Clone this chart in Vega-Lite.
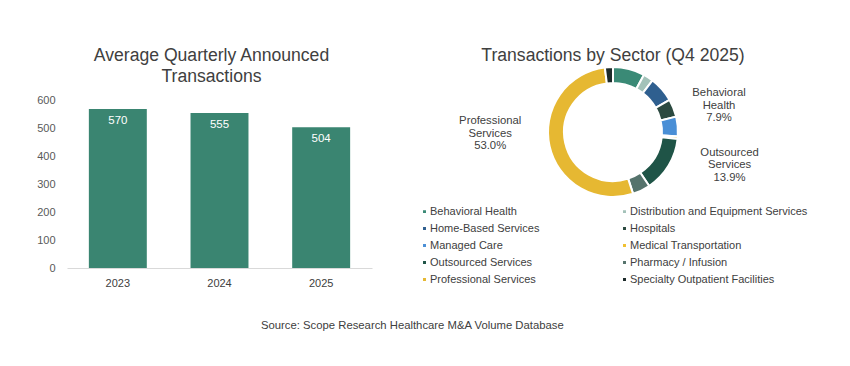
{
  "$schema": "https://vega.github.io/schema/vega-lite/v6.json",
  "padding": {"left": 36, "top": 47, "right": 5, "bottom": 5},
  "background": "white",
  "config": {
    "font": "Liberation Sans",
    "view": {"stroke": null},
    "concat": {"spacing": 47}
  },
  "resolve": {"scale": {"color": "independent"}, "legend": {"color": "independent"}},
  "title": {
    "text": "Source: Scope Research Healthcare M&A Volume Database",
    "orient": "bottom",
    "anchor": "middle",
    "fontSize": 11.3,
    "fontWeight": "normal",
    "color": "#404040",
    "offset": 32,
    "dx": -10
  },
  "hconcat": [
    {
      "width": 305,
      "height": 201,
      "title": {
        "text": ["Average Quarterly Announced", "Transactions"],
        "fontSize": 17.6,
        "fontWeight": "normal",
        "color": "#404040",
        "lineHeight": 21,
        "offset": -19,
        "dx": -8,
        "anchor": "middle"
      },
      "data": {
        "values": [
          {"year": "2023", "avg": 570},
          {"year": "2024", "avg": 555},
          {"year": "2025", "avg": 504}
        ]
      },
      "encoding": {
        "x": {
          "field": "year",
          "type": "nominal",
          "title": null,
          "scale": {"paddingInner": 0.43, "paddingOuter": 0.215},
          "axis": {
            "labelAngle": 0,
            "ticks": false,
            "domainColor": "#d9d9d9",
            "labelFontSize": 11,
            "labelColor": "#404040",
            "labelPadding": 9
          }
        },
        "y": {
          "field": "avg",
          "type": "quantitative",
          "title": null,
          "scale": {"domain": [0, 720]},
          "axis": {
            "values": [0, 100, 200, 300, 400, 500, 600],
            "grid": false,
            "domain": false,
            "ticks": false,
            "labelFontSize": 11,
            "labelColor": "#595959",
            "labelPadding": 12
          }
        }
      },
      "layer": [
        {"mark": {"type": "bar", "color": "#3a8571"}},
        {
          "mark": {"type": "text", "color": "white", "baseline": "top", "dy": 6, "fontSize": 11.5},
          "encoding": {"text": {"field": "avg", "type": "quantitative"}}
        }
      ]
    },
    {
      "width": 388,
      "height": 130,
      "title": {
        "text": "Transactions by Sector (Q4 2025)",
        "fontSize": 17.6,
        "fontWeight": "normal",
        "color": "#404040",
        "offset": -2,
        "anchor": "middle"
      },
      "data": {
        "values": [
          {"sector": "Behavioral Health", "pct": 7.9},
          {"sector": "Distribution and Equipment Services", "pct": 2.5},
          {"sector": "Home-Based Services", "pct": 6.4},
          {"sector": "Hospitals", "pct": 4.4},
          {"sector": "Managed Care", "pct": 4.9},
          {"sector": "Medical Transportation", "pct": 0.6},
          {"sector": "Outsourced Services", "pct": 13.9},
          {"sector": "Pharmacy / Infusion", "pct": 4.4},
          {"sector": "Professional Services", "pct": 53.0},
          {"sector": "Specialty Outpatient Facilities", "pct": 2.0}
        ]
      },
      "transform": [
        {"stack": "pct", "groupby": [], "sort": [{"field": "sector", "order": "ascending"}], "as": ["p0", "p1"]},
        {"calculate": "replace(datum.sector, ' ', '\\n') + '\\n' + format(datum.pct, '.1f') + '%'", "as": "label"}
      ],
      "layer": [
        {
          "mark": {"type": "arc", "outerRadius": 65, "innerRadius": 49, "stroke": "white", "strokeWidth": 2},
          "encoding": {
            "theta": {"field": "p0", "type": "quantitative", "scale": {"domain": [0, 100]}},
            "theta2": {"field": "p1"},
            "color": {
              "field": "sector",
              "type": "nominal",
              "scale": {
                "domain": ["Behavioral Health", "Distribution and Equipment Services", "Home-Based Services", "Hospitals", "Managed Care", "Medical Transportation", "Outsourced Services", "Pharmacy / Infusion", "Professional Services", "Specialty Outpatient Facilities"],
                "range": ["#3a8a76", "#a3c2b9", "#2f5f8f", "#2b4940", "#4a8fd6", "#f0c030", "#1f5447", "#55736c", "#e6b832", "#1c2a2a"]
              },
              "legend": {
                "title": null,
                "orient": "bottom",
                "direction": "horizontal",
                "columns": 2,
                "symbolType": "square",
                "symbolSize": 20,
                "labelFontSize": 11,
                "labelColor": "#404040",
                "labelOffset": 0,
                "labelLimit": 300,
                "rowPadding": 5,
                "columnPadding": 79,
                "offset": 9
              }
            }
          }
        },
        {
          "transform": [{"filter": "datum.sector == 'Behavioral Health'"}],
          "mark": {"type": "text", "radius": 75, "fontSize": 11.3, "color": "#404040", "lineBreak": "\n", "lineHeight": 12.5, "align": "center", "baseline": "middle", "dx": 106, "dy": 36},
          "encoding": {
            "theta": {"field": "p0", "type": "quantitative"},
            "text": {"field": "label"}
          }
        },
        {
          "transform": [{"filter": "datum.sector == 'Outsourced Services'"}],
          "mark": {"type": "text", "radius": 75, "fontSize": 11.3, "color": "#404040", "lineBreak": "\n", "lineHeight": 12.5, "align": "center", "baseline": "middle", "dx": 42, "dy": 13},
          "encoding": {
            "theta": {"field": "p0", "type": "quantitative"},
            "text": {"field": "label"}
          }
        },
        {
          "transform": [{"filter": "datum.sector == 'Professional Services'"}],
          "mark": {"type": "text", "radius": 75, "fontSize": 11.3, "color": "#404040", "lineBreak": "\n", "lineHeight": 12.5, "align": "center", "baseline": "middle", "dx": -146, "dy": -82},
          "encoding": {
            "theta": {"field": "p0", "type": "quantitative"},
            "text": {"field": "label"}
          }
        }
      ]
    }
  ]
}
